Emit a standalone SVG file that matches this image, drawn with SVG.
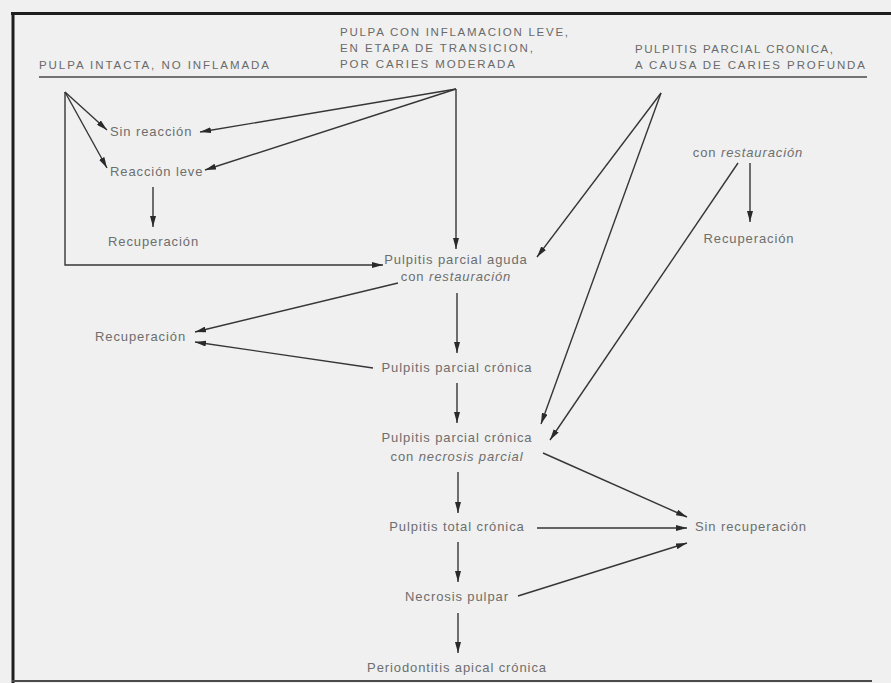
<svg xmlns="http://www.w3.org/2000/svg" width="891" height="683" viewBox="0 0 891 683">
<defs>
<style>
.bg{fill:#eff0ef}
.frame{stroke:#1e1e1e;stroke-width:3;fill:none}
.hd{font-family:"Liberation Sans",Arial,sans-serif;font-size:11.5px;fill:#6a6a6a}
.t{font-family:"Liberation Sans",Arial,sans-serif;font-size:13px;fill:#6e6e6e;letter-spacing:0.9px}
.m{text-anchor:middle}
.it{font-style:italic}
.c{stroke:#363636;stroke-width:1.4;fill:none}
.a{marker-end:url(#ah)}
</style>
<marker id="ah" viewBox="0 0 11 6" refX="11" refY="3" markerWidth="11" markerHeight="6" orient="auto" markerUnits="userSpaceOnUse">
<path d="M0,0 L11,3 L0,6 z" fill="#2a2a2a"/>
</marker>
</defs>
<rect class="bg" x="0" y="0" width="891" height="683"/>
<g id="frame">
<line class="frame" x1="11" y1="13.5" x2="891" y2="13.5"/>
<line class="frame" x1="13" y1="12" x2="13" y2="683"/>
<line x1="12" y1="681" x2="872" y2="681" stroke="#4a4a4a" stroke-width="2"/>
<line x1="39" y1="77" x2="867" y2="77" stroke="#4a4a4a" stroke-width="1.5"/>
</g>
<g id="header-intacta">
<text class="hd" x="39" y="69" textLength="230" lengthAdjust="spacing">PULPA INTACTA, NO INFLAMADA</text>
</g>
<g id="header-leve">
<text class="hd" x="340" y="36" textLength="228" lengthAdjust="spacing">PULPA CON INFLAMACION LEVE,</text>
<text class="hd" x="340" y="52" textLength="193" lengthAdjust="spacing">EN ETAPA DE TRANSICION,</text>
<text class="hd" x="340" y="68" textLength="175" lengthAdjust="spacing">POR CARIES MODERADA</text>
</g>
<g id="header-profunda">
<text class="hd" x="635" y="53" textLength="198" lengthAdjust="spacing">PULPITIS PARCIAL CRONICA,</text>
<text class="hd" x="635" y="69" textLength="230" lengthAdjust="spacing">A CAUSA DE CARIES PROFUNDA</text>
</g>
<g id="n-sin-reaccion"><text class="t" x="110" y="136">Sin reacción</text></g>
<g id="n-reaccion-leve"><text class="t" x="110" y="176">Reacción leve</text></g>
<g id="n-recuperacion-1"><text class="t" x="108" y="246">Recuperación</text></g>
<g id="n-aguda">
<text class="t m" x="456" y="264">Pulpitis parcial aguda</text>
<text class="t m" x="456" y="281">con <tspan class="it">restauración</tspan></text>
</g>
<g id="n-recuperacion-2"><text class="t" x="95" y="341">Recuperación</text></g>
<g id="n-parcial-cronica"><text class="t m" x="457" y="372">Pulpitis parcial crónica</text></g>
<g id="n-necrosis-parcial">
<text class="t m" x="457" y="442">Pulpitis parcial crónica</text>
<text class="t m" x="457" y="461">con <tspan class="it">necrosis parcial</tspan></text>
</g>
<g id="n-total-cronica"><text class="t m" x="457" y="531">Pulpitis total crónica</text></g>
<g id="n-necrosis-pulpar"><text class="t m" x="457" y="601">Necrosis pulpar</text></g>
<g id="n-periodontitis"><text class="t m" x="457" y="672">Periodontitis apical crónica</text></g>
<g id="n-sin-recuperacion"><text class="t" x="695" y="531">Sin recuperación</text></g>
<g id="n-con-restauracion-r"><text class="t m" x="748" y="157">con <tspan class="it">restauración</tspan></text></g>
<g id="n-recuperacion-3"><text class="t m" x="749" y="243">Recuperación</text></g>
<g id="connectors">
<line class="c a" x1="65" y1="92" x2="107" y2="130"/>
<line class="c a" x1="65" y1="92" x2="107" y2="168"/>
<polyline class="c a" points="65,92 65,265 383,265"/>
<line class="c a" x1="456" y1="89" x2="200" y2="132"/>
<line class="c a" x1="456" y1="89" x2="205" y2="170"/>
<line class="c a" x1="456" y1="89" x2="456" y2="249"/>
<line class="c a" x1="153" y1="187" x2="153" y2="227"/>
<line class="c a" x1="661" y1="93" x2="537" y2="257"/>
<line class="c a" x1="661" y1="93" x2="541" y2="424"/>
<line class="c a" x1="738" y1="163" x2="550" y2="440"/>
<line class="c a" x1="750" y1="163" x2="750" y2="222"/>
<line class="c a" x1="398" y1="283" x2="195" y2="332"/>
<line class="c a" x1="373" y1="368" x2="195" y2="342"/>
<line class="c a" x1="457" y1="293" x2="457" y2="353"/>
<line class="c a" x1="457" y1="383" x2="457" y2="423"/>
<line class="c a" x1="458" y1="472" x2="458" y2="513"/>
<line class="c a" x1="543" y1="453" x2="687" y2="517"/>
<line class="c a" x1="537" y1="528" x2="687" y2="528"/>
<line class="c a" x1="458" y1="542" x2="458" y2="582"/>
<line class="c a" x1="518" y1="596" x2="687" y2="543"/>
<line class="c a" x1="458" y1="613" x2="458" y2="653"/>
</g>
</svg>
